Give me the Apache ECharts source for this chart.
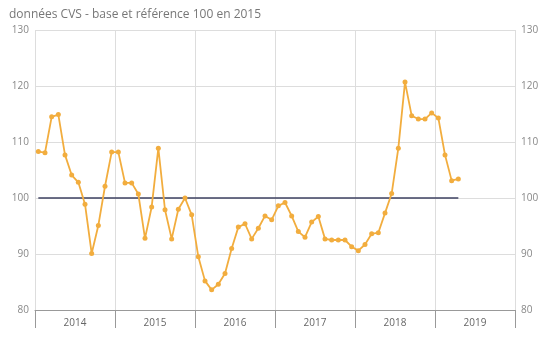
<!DOCTYPE html>
<html><head><meta charset="utf-8">
<script src="https://cdn.jsdelivr.net/npm/echarts@6/dist/echarts.min.js"></script>
<style>html,body{margin:0;padding:0;background:#fff}#c{width:548px;height:350px}</style>
</head><body><div id="c"></div>
<script>
var titleText = 'données CVS - base et référence 100 en 2015';
var years = ['2014','2015','2016','2017','2018','2019'];
var monthNums = ['01','02','03','04','05','06','07','08','09','10','11','12'];
var values = [
  108.3, 108.1, 114.5, 114.9, 107.7, 104.1, 102.8, 98.9, 90.1, 95.1, 102.1, 108.2,
  108.2, 102.7, 102.7, 100.7, 92.8, 98.4, 108.9, 97.9, 92.7, 98.0, 100.0, 97.0,
  89.5, 85.2, 83.6, 84.6, 86.5, 91.0, 94.8, 95.4, 92.7, 94.6, 96.8, 96.1,
  98.6, 99.2, 96.8, 94.0, 93.0, 95.7, 96.7, 92.7, 92.5, 92.5, 92.5, 91.3,
  90.6, 91.7, 93.6, 93.8, 97.3, 100.8, 108.9, 120.7, 114.7, 114.1, 114.1, 115.2,
  114.3, 107.7, 103.1, 103.4
];
var referenceValue = 100;
var yTicks = [80, 90, 100, 110, 120, 130];

var months = [];
years.forEach(function (y) { monthNums.forEach(function (m) { months.push(y + '-' + m); }); });

var font = '"Open Sans", sans-serif';
var chart = echarts.init(document.getElementById('c'));
chart.setOption({
  animation: false,
  backgroundColor: '#fff',
  title: {
    text: titleText, left: 4, top: 4,
    textStyle: { fontFamily: font, fontSize: 12, fontWeight: 'normal', color: '#777' }
  },
  grid: { left: 35, right: 33, top: 30, bottom: 40 },
  xAxis: [
    { type: 'category', data: months, show: false, boundaryGap: true },
    {
      type: 'category', data: years, position: 'bottom', boundaryGap: true,
      axisLine: { show: true, lineStyle: { color: '#999' } },
      axisTick: { show: true, length: 18, interval: 0, lineStyle: { color: '#999' } },
      axisLabel: { interval: 0, color: '#666', fontFamily: font, fontSize: 10, margin: 8 },
      splitLine: { show: true, interval: 0, lineStyle: { color: '#ddd' } }
    }
  ],
  yAxis: [
    {
      type: 'value', min: yTicks[0], max: yTicks[yTicks.length - 1], interval: 10, position: 'left',
      axisLine: { show: false }, axisTick: { show: false },
      axisLabel: { color: '#888', fontFamily: font, fontSize: 10, margin: 6 },
      splitLine: { show: true, lineStyle: { color: '#ddd' } }
    },
    {
      type: 'value', min: yTicks[0], max: yTicks[yTicks.length - 1], interval: 10, position: 'right',
      axisLine: { show: false }, axisTick: { show: false },
      axisLabel: { color: '#888', fontFamily: font, fontSize: 10, margin: 6 },
      splitLine: { show: false }
    }
  ],
  series: [{
    type: 'line', xAxisIndex: 0, yAxisIndex: 0, data: values,
    symbol: 'circle', symbolSize: 5, showSymbol: true, showAllSymbol: true,
    itemStyle: { color: '#f2ad3e' },
    lineStyle: { color: '#f2ad3e', width: 1.8 },
    z: 3,
    markLine: {
      silent: true, symbol: 'none', label: { show: false },
      lineStyle: { color: '#3d4160', width: 1.5, type: 'solid' },
      data: [[{ coord: [months[0], referenceValue] }, { coord: [months[values.length - 1], referenceValue] }]],
      z: 2
    }
  }]
});
</script>
</body></html>
